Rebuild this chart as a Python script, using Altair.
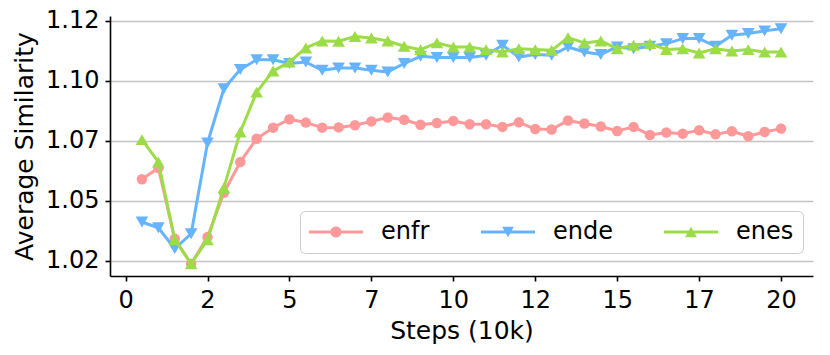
import altair as alt
import pandas as pd

# ---------------- data ----------------
steps = [0.5, 1.0, 1.5, 2.0, 2.5, 3.0, 3.5, 4.0, 4.5, 5.0,
         5.5, 6.0, 6.5, 7.0, 7.5, 8.0, 8.5, 9.0, 9.5, 10.0,
         10.5, 11.0, 11.5, 12.0, 12.5, 13.0, 13.5, 14.0, 14.5, 15.0,
         15.5, 16.0, 16.5, 17.0, 17.5, 18.0, 18.5, 19.0, 19.5, 20.0]

enfr = [1.0540, 1.0587, 1.0292, 1.0188, 1.0299, 1.0484, 1.0612, 1.0709, 1.0755, 1.0790,
        1.0776, 1.0755, 1.0756, 1.0765, 1.0781, 1.0797, 1.0788, 1.0767, 1.0774, 1.0783,
        1.0769, 1.0769, 1.0758, 1.0777, 1.0749, 1.0747, 1.0785, 1.0772, 1.0760, 1.0741,
        1.0758, 1.0724, 1.0735, 1.0730, 1.0744, 1.0727, 1.0740, 1.0719, 1.0737, 1.0751]

ende = [1.0362, 1.0338, 1.0251, 1.0313, 1.0691, 1.0917, 1.0997, 1.1038, 1.1038, 1.1022,
        1.1028, 1.0994, 1.1003, 1.1003, 1.0994, 1.0987, 1.1022, 1.1052, 1.1047, 1.1047,
        1.1047, 1.1056, 1.1098, 1.1049, 1.1060, 1.1056, 1.1091, 1.1070, 1.1060, 1.1091,
        1.1084, 1.1094, 1.1105, 1.1126, 1.1126, 1.1094, 1.1140, 1.1147, 1.1158, 1.1167]

enes = [1.0705, 1.0612, 1.0288, 1.0188, 1.0288, 1.0505, 1.0737, 1.0903, 1.0991, 1.1028,
        1.1087, 1.1116, 1.1115, 1.1135, 1.1128, 1.1116, 1.1094, 1.1080, 1.1108, 1.1091,
        1.1091, 1.1080, 1.1070, 1.1084, 1.1080, 1.1077, 1.1130, 1.1108, 1.1116, 1.1084,
        1.1098, 1.1105, 1.1080, 1.1084, 1.1066, 1.1084, 1.1074, 1.1080, 1.1070, 1.1070]

series_names = ["enfr", "ende", "enes"]
series_colors = ["#ff9999", "#66b3ff", "#9bdc48"]
series_shapes = ["circle", "triangle-down", "triangle-up"]
series_sizes = [110, 160, 160]

x_ticks = [0, 2.5, 5, 7.5, 10, 12.5, 15, 17.5, 20]
y_ticks = [1.02, 1.045, 1.07, 1.095, 1.12]
y_labels = ["1.02", "1.05", "1.07", "1.10", "1.12"]

# legend symbols: a line with the series marker on it
# (path units are scaled by sqrt(size)/2 = 12 px; line spans -1..3.5 units)
LINE = "M-1,-0.125L3.5,-0.125L3.5,0.125L-1,0.125Z"
legend_paths = [
    LINE + "M0.79,0A0.46,0.46,0,1,1,1.71,0A0.46,0.46,0,1,1,0.79,0Z",
    LINE + "M0.76,-0.43L1.74,-0.43L1.25,0.43Z",
    LINE + "M1.25,-0.43L1.74,0.43L0.76,0.43Z",
]
LEGEND_SIZE = 576

rows = []
for name, vals in zip(series_names, [enfr, ende, enes]):
    for s, v in zip(steps, vals):
        rows.append({"step": s, "value": v, "series": name})
df = pd.DataFrame(rows)

FONT = "DejaVu Sans"
label_expr = "[" + ",".join(f"'{l}'" for l in y_labels) + "][round((datum.value-1.02)/0.025)]"

x_enc = alt.X(
    "step:Q",
    scale=alt.Scale(domain=[-0.475, 20.975], nice=False, zero=False),
    axis=alt.Axis(values=x_ticks, labelExpr="floor(datum.value)", title="Steps (10k)",
                  grid=False, labelPadding=7, titlePadding=6),
)
y_enc = alt.Y(
    "value:Q",
    scale=alt.Scale(domain=[1.0137, 1.122], nice=False, zero=False),
    axis=alt.Axis(values=y_ticks, labelExpr=label_expr, title="Average Similarity",
                  grid=True, gridColor="#c4c4c4", gridWidth=1.6,
                  labelPadding=6, titlePadding=8),
)

base = alt.Chart(df)
layers = []
for name, col, shp, sz in zip(series_names, series_colors, series_shapes, series_sizes):
    sub = base.transform_filter(alt.datum.series == name)
    layers.append(sub.mark_line(color=col, strokeWidth=3, strokeJoin="round").encode(x=x_enc, y=y_enc))
    layers.append(sub.mark_point(color=col, filled=True, opacity=1, shape=shp, size=sz).encode(x=x_enc, y=y_enc))

# legend-only layer: no rows drawn, scales carry explicit domains
legend_layer = base.transform_filter("false").mark_point(filled=True, opacity=1, size=LEGEND_SIZE).encode(
    x=x_enc,
    y=y_enc,
    color=alt.Color("series:N", scale=alt.Scale(domain=series_names, range=series_colors),
                    legend=alt.Legend(
                        title=None, orient="none", legendX=190, legendY=195,
                        direction="horizontal", columns=3, columnPadding=51,
                        labelFont=FONT, labelFontSize=24, labelColor="black", labelOffset=48,
                        symbolSize=LEGEND_SIZE, symbolStrokeWidth=0, symbolOpacity=1,
                        padding=9, strokeColor="#cccccc", fillColor="rgba(255,255,255,0.8)",
                        cornerRadius=5, labelLimit=300,
                    )),
    shape=alt.Shape("series:N", scale=alt.Scale(domain=series_names, range=legend_paths)),
)

chart = alt.layer(*layers, legend_layer).properties(
    width=703, height=260,
    autosize=alt.AutoSizeParams(type="none"),
    padding={"left": 102, "top": 8, "right": 9, "bottom": 71},
).configure_view(stroke=None).configure_axis(
    labelFont=FONT, titleFont=FONT, labelFontSize=24, titleFontSize=25,
    titleFontWeight="normal", labelColor="black", titleColor="black",
    domainColor="black", domainWidth=1.6, tickColor="black", tickWidth=1.6, tickSize=5,
)

chart.save("out.html", embed_options={"renderer": "svg", "actions": False})
